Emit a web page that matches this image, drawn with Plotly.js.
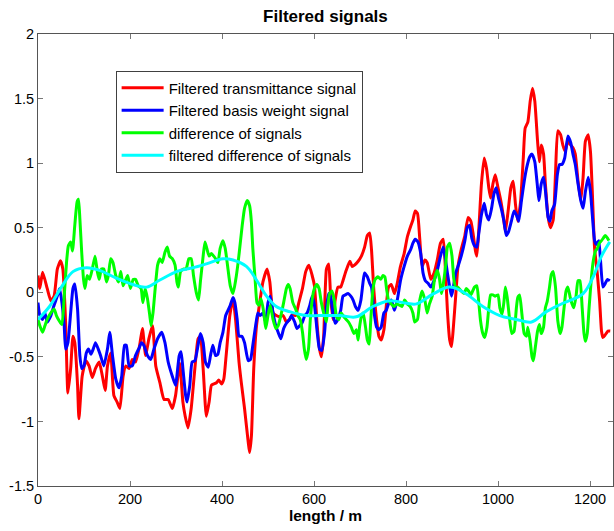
<!DOCTYPE html>
<html>
<head>
<meta charset="utf-8">
<script src="https://cdn.plot.ly/plotly-3.0.1.min.js"></script>
<style>html,body{margin:0;padding:0;background:#fff;}#chart{width:614px;height:531px;}</style>
</head>
<body>
<div id="chart"></div>
<script>
// Filtered transmittance signal (red)
const redX = [0,4,10,20,28,35,42,49,54,60,65,71,76,80,86,89,96,104,111,118,125,133,140,146,151,158,165,172,178,185,191,198,205,212,221,227,234,241,249,256,265,274,283,292,299,308,315,320,326,333,341,348,353,359,366,372,377,382,388,393,399,404,409,417,424,430,437,442,449,457,460,464,469,475,482,489,498,504,511,518,525,533,540,547,554,560,567,575,582,589,596,601,607,612,616,621,627,632,636,641,646,652,658,663,670,678,683,688,696,703,710,716,721,725,730,736,741,746,752,757,762,768,775,781,788,796,803,810,815,820,825,830,835,841,846,854,861,868,875,881,886,890,895,899,903,908,913,920,928,935,941,946,951,954,958,964,970,975,980,984,989,994,1000,1006,1011,1016,1022,1028,1033,1038,1043,1049,1055,1059,1065,1070,1075,1080,1086,1090,1094,1099,1103,1109,1114,1120,1125,1130,1136,1141,1146,1152,1158,1163,1168,1174,1180,1185,1190,1196,1201,1205,1210,1216,1221,1225,1228,1233,1239,1244];
const redY = [0.13,0.03,0.155,0.03,-0.065,-0.03,0.18,0.245,0.18,-0.23,-0.78,-0.59,-0.34,-0.39,-0.72,-0.98,-0.65,-0.53,-0.57,-0.66,-0.59,-0.54,-0.65,-0.76,-0.57,-0.47,-0.80,-0.85,-0.90,-0.65,-0.57,-0.59,-0.52,-0.54,-0.41,-0.28,-0.49,-0.36,-0.26,-0.57,-0.70,-0.83,-0.83,-0.90,-0.80,-0.55,-0.85,-0.96,-1.05,-0.90,-0.59,-0.36,-0.34,-0.59,-0.96,-0.85,-0.72,-0.71,-0.70,-0.68,-0.71,-0.67,-0.49,-0.18,-0.05,-0.23,-0.54,-0.70,-0.90,-1.16,-1.24,-1.11,-0.59,-0.26,-0.08,0.08,0.18,0.08,-0.16,-0.18,-0.19,-0.18,-0.23,-0.21,-0.17,-0.18,-0.08,0.03,0.16,0.21,0.13,0.05,-0.26,-0.44,-0.50,-0.34,0.18,0.22,-0.03,-0.21,-0.06,0.04,0.04,0.09,0.17,0.24,0.20,0.21,0.24,0.28,0.35,0.44,0.46,0.33,0.02,-0.21,-0.34,-0.37,-0.29,-0.11,0.04,0.06,-0.01,0.07,0.20,0.30,0.43,0.51,0.56,0.63,0.61,0.41,0.20,0.25,0.23,0.10,0.15,0.25,0.38,0.41,0.15,-0.14,-0.37,-0.42,-0.27,-0.03,0.20,0.33,0.44,0.58,0.55,0.45,0.32,0.28,0.47,0.84,1.04,0.96,0.81,0.73,0.84,0.91,0.81,0.71,0.60,0.47,0.63,0.81,0.86,0.68,0.55,0.70,1.04,1.27,1.32,1.48,1.58,1.48,1.17,1.01,1.14,1.07,0.84,0.58,0.50,0.56,0.92,1.25,1.22,1.14,1.09,1.17,1.14,1.12,1.07,0.86,0.71,0.89,1.17,1.22,1.09,0.78,0.34,0.14,-0.07,-0.30,-0.35,-0.33,-0.30,-0.30];

// Filtered basis weight signal (blue)
const blueX = [0,4,10,15,20,28,35,42,47,52,57,60,65,71,76,80,86,91,95,100,105,110,115,120,125,131,136,143,151,156,162,169,176,182,188,192,198,205,212,220,225,230,238,245,252,260,269,276,283,292,299,307,311,315,321,324,330,335,341,348,353,359,364,370,375,380,386,391,396,402,408,413,418,424,428,433,437,443,449,457,462,467,473,478,483,489,495,500,505,511,517,522,528,534,540,547,551,558,563,569,575,580,585,591,596,601,607,612,617,623,627,632,636,641,646,652,658,663,668,674,680,685,690,696,702,707,710,716,721,725,730,736,741,746,752,757,762,768,775,781,788,796,803,810,815,820,826,832,837,842,848,854,861,868,875,881,886,890,895,899,903,908,913,920,928,933,938,943,949,954,958,964,970,975,980,986,991,996,1001,1007,1013,1018,1023,1029,1035,1040,1045,1051,1057,1062,1069,1074,1080,1086,1089,1094,1099,1103,1109,1113,1117,1123,1129,1134,1139,1145,1152,1158,1163,1168,1174,1180,1185,1190,1196,1201,1205,1210,1214,1219,1223,1228,1232,1238,1243];
const blueY = [-0.08,-0.18,-0.21,-0.16,-0.23,-0.18,-0.10,-0.03,0.03,-0.08,-0.26,-0.44,-0.39,-0.16,0.03,0.065,-0.13,-0.49,-0.59,-0.57,-0.47,-0.44,-0.48,-0.44,-0.39,-0.44,-0.49,-0.57,-0.44,-0.31,-0.49,-0.67,-0.74,-0.65,-0.41,-0.41,-0.57,-0.57,-0.49,-0.43,-0.39,-0.41,-0.49,-0.52,-0.44,-0.36,-0.31,-0.39,-0.54,-0.65,-0.72,-0.49,-0.46,-0.59,-0.80,-0.85,-0.72,-0.54,-0.53,-0.41,-0.32,-0.39,-0.54,-0.58,-0.49,-0.41,-0.49,-0.48,-0.39,-0.31,-0.18,-0.14,-0.10,-0.04,-0.08,-0.21,-0.34,-0.34,-0.39,-0.53,-0.52,-0.41,-0.26,-0.16,-0.18,-0.16,-0.23,-0.08,-0.03,-0.16,-0.26,-0.31,-0.36,-0.28,-0.24,-0.21,-0.18,-0.23,-0.28,-0.26,-0.23,-0.18,-0.16,-0.10,-0.03,-0.10,-0.31,-0.44,-0.45,-0.31,-0.12,-0.01,-0.03,-0.16,-0.24,-0.21,-0.14,-0.03,-0.02,-0.01,-0.03,-0.06,-0.11,-0.14,-0.06,0.09,0.15,0.12,0.07,0.04,-0.14,-0.27,-0.29,-0.27,-0.16,-0.14,-0.09,-0.06,-0.14,-0.06,0.09,0.20,0.28,0.33,0.38,0.41,0.39,0.30,0.15,0.09,0.07,0.04,0.09,0.17,0.28,0.35,0.25,0.15,0.04,-0.03,0.04,0.15,0.20,0.28,0.40,0.50,0.52,0.42,0.36,0.35,0.45,0.60,0.69,0.60,0.56,0.65,0.76,0.81,0.73,0.65,0.55,0.44,0.47,0.55,0.63,0.60,0.55,0.71,0.86,0.96,1.05,1.07,1.01,0.81,0.71,0.84,0.89,0.79,0.58,0.55,0.63,0.68,0.91,0.99,0.99,1.04,1.21,1.16,1.07,0.99,0.84,0.71,0.65,0.78,0.89,0.78,0.60,0.40,0.37,0.40,0.24,0.04,0.06,0.10,0.09];

// difference of signals (green)
const greenX = [0,4,10,15,20,28,35,40,46,52,57,62,66,71,75,80,85,88,91,95,99,102,107,112,118,124,129,133,138,143,149,153,158,163,169,175,180,185,191,195,201,207,212,218,224,228,233,238,243,246,250,254,260,265,270,276,281,286,292,298,302,305,310,317,322,328,333,338,344,349,353,359,363,367,372,377,382,386,391,396,402,407,413,418,424,430,435,440,444,449,455,460,464,467,472,476,480,485,491,495,500,505,511,517,522,528,534,540,544,548,554,560,565,570,575,579,583,588,592,597,601,606,611,616,621,627,630,634,639,644,649,654,659,665,670,675,681,687,692,696,699,703,707,712,716,720,723,728,733,739,745,750,754,758,762,768,774,780,786,791,797,803,809,815,819,825,830,835,841,846,851,857,862,868,873,877,880,886,890,895,900,904,909,913,920,926,931,936,941,945,949,954,958,962,967,971,976,980,984,989,994,1000,1004,1009,1013,1016,1020,1025,1030,1035,1040,1043,1047,1052,1057,1062,1065,1070,1074,1077,1081,1086,1090,1094,1099,1103,1107,1112,1116,1120,1125,1130,1135,1139,1143,1148,1152,1157,1161,1165,1170,1174,1178,1183,1187,1190,1194,1198,1203,1207,1212,1216,1220,1225,1229,1233,1238,1241];
const greenY = [-0.21,-0.26,-0.31,-0.26,-0.21,-0.16,-0.13,-0.18,-0.22,-0.25,-0.03,0.23,0.36,0.39,0.32,0.52,0.70,0.72,0.57,0.31,0.10,0.03,0.13,0.10,0.18,0.28,0.16,0.10,0.18,0.18,0.08,0.13,0.26,0.23,0.13,0.08,0.16,0.05,0.10,0.13,0.03,0.10,0.10,0.05,0.03,-0.08,0.03,-0.05,-0.18,-0.26,-0.16,0.00,0.21,0.26,0.23,0.31,0.35,0.28,0.26,0.21,0.08,0.04,0.16,0.18,0.18,0.26,0.26,0.13,0.00,-0.06,0.08,0.28,0.39,0.34,0.28,0.30,0.28,0.26,0.23,0.34,0.40,0.34,0.18,0.05,-0.01,0.10,0.23,0.39,0.52,0.65,0.71,0.67,0.54,0.34,0.10,-0.08,-0.10,-0.05,-0.16,-0.28,-0.18,-0.10,-0.21,-0.28,-0.26,-0.18,-0.08,0.03,0.06,0.03,-0.08,-0.13,-0.18,-0.21,-0.31,-0.44,-0.52,-0.44,-0.21,-0.03,0.03,0.06,0.03,-0.08,-0.16,-0.23,-0.11,-0.01,0.01,-0.06,-0.19,-0.21,-0.16,-0.19,-0.21,-0.23,-0.27,-0.32,-0.29,-0.37,-0.27,-0.19,-0.16,-0.27,-0.37,-0.40,-0.24,0.02,0.10,0.12,0.10,0.13,0.12,0.02,-0.06,-0.09,-0.11,-0.09,-0.10,-0.11,-0.06,-0.09,-0.11,-0.16,-0.23,-0.21,-0.06,0.01,-0.06,-0.16,-0.09,-0.03,0.10,0.17,0.10,-0.01,0.04,0.20,0.35,0.38,0.28,0.10,0.03,0.04,0.01,-0.01,0.03,0.01,-0.02,0.01,0.04,0.05,-0.07,-0.22,-0.32,-0.35,-0.27,-0.12,-0.02,-0.02,-0.03,-0.02,-0.12,-0.17,-0.07,0.04,-0.04,-0.20,-0.32,-0.30,-0.12,-0.04,-0.02,-0.17,-0.32,-0.34,-0.27,-0.38,-0.50,-0.53,-0.43,-0.30,-0.25,-0.32,-0.27,-0.12,-0.07,0.04,0.14,0.16,0.04,-0.22,-0.32,-0.27,-0.14,0.01,0.04,-0.04,-0.09,-0.12,-0.02,0.09,0.09,-0.12,-0.32,-0.38,-0.32,-0.12,0.11,0.24,0.32,0.34,0.38,0.40,0.42,0.44,0.42,0.40];

// filtered difference of signals (cyan)
const cyanX = [0,25,51,76,105,134,170,206,236,265,301,337,366,402,424,453,475,497,518,547,583,612,656,692,728,765,801,823,859,895,931,967,1004,1040,1073,1105,1141,1185,1207,1225,1243];
const cyanY = [-0.21,-0.11,0.04,0.16,0.19,0.17,0.11,0.06,0.04,0.095,0.16,0.19,0.22,0.26,0.25,0.20,0.095,-0.03,-0.11,-0.15,-0.18,-0.18,-0.18,-0.19,-0.11,-0.065,-0.085,-0.09,-0.013,0.04,-0.013,-0.11,-0.18,-0.21,-0.23,-0.15,-0.085,-0.01,0.12,0.28,0.39];

const seriesNames = ['Filtered transmittance signal','Filtered basis weight signal','difference of signals','filtered difference of signals'];
const xTickVals = [0,200,400,600,800,1000,1200];
const xTickText = ['0','200','400','600','800','1000','1200'];
const yTickVals = [-1.5,-1,-0.5,0,0.5,1,1.5,2];
const yTickText = ['-1.5','-1','-0.5','0','0.5','1','1.5','2'];

const FONT = 'Liberation Sans, Arial, sans-serif';
const LW = 3;
const traces = [
  {x: redX, y: redY, name: seriesNames[0], mode: 'lines', line: {color: '#ff0000', width: LW, shape: 'spline', smoothing: 0.5}},
  {x: blueX, y: blueY, name: seriesNames[1], mode: 'lines', line: {color: '#0000ff', width: LW, shape: 'spline', smoothing: 0.5}},
  {x: greenX, y: greenY, name: seriesNames[2], mode: 'lines', line: {color: '#00ff00', width: LW, shape: 'spline', smoothing: 0.5}},
  {x: cyanX, y: cyanY, name: seriesNames[3], mode: 'lines', line: {color: '#00ffff', width: LW, shape: 'spline', smoothing: 1}}
];

const axisCommon = {
  showgrid: false, zeroline: false, showline: true, linecolor: '#555555', linewidth: 1,
  mirror: 'ticks', ticks: 'inside', ticklen: 5, tickcolor: '#777777', tickwidth: 1,
  automargin: false,
  tickfont: {family: FONT, size: 14.5, color: '#000'}
};

const layout = {
  width: 614, height: 531, autosize: false,
  margin: {l: 38, r: 1, t: 34, b: 45, pad: 0, autoexpand: false},
  paper_bgcolor: '#fff', plot_bgcolor: '#fff',
  title: {text: 'Filtered signals', font: {family: FONT, size: 17, color: '#000', weight: 'bold'}, x: 0.53, xanchor: 'center', y: 0.969, yanchor: 'middle'},
  xaxis: Object.assign({}, axisCommon, {
    range: [0, 1250], tickvals: xTickVals, ticktext: xTickText,
    title: {text: 'length / m', font: {family: FONT, size: 15.5, color: '#000', weight: 'bold'}, standoff: 0}
  }),
  yaxis: Object.assign({}, axisCommon, {
    range: [-1.5, 2], tickvals: yTickVals, ticktext: yTickText
  }),
  showlegend: true,
  legend: {
    x: 0.135, y: 0.919, xanchor: 'left', yanchor: 'top',
    bgcolor: '#fff', bordercolor: '#404040', borderwidth: 1,
    font: {family: FONT, size: 15, color: '#000'},
    itemwidth: 42, tracegroupgap: 0
  }
};

Plotly.newPlot('chart', traces, layout, {displayModeBar: false, staticPlot: true});
</script>
</body>
</html>
